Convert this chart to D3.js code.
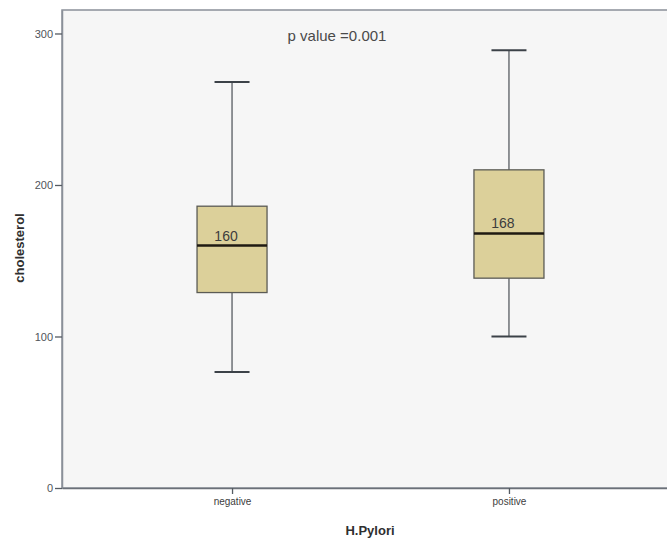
<!DOCTYPE html>
<html lang="en">
<head>
<meta charset="UTF-8" />
<title>Cholesterol by H.Pylori</title>
<script src="https://cdn.jsdelivr.net/npm/d3@7"></script>
<style>
  body { margin: 0; background: #fff; }
  text { font-family: Arial, "Liberation Sans", sans-serif; }
</style>
</head>
<body>
<script>
// values
var groups = ["negative", "positive"];
var whiskerLow = [76.5, 100];
var q1 = [129, 138.5];
var medians = [160, 168];
var q3 = [186, 210];
var whiskerHigh = [268, 289];
var medianLabels = ["160", "168"];
var yTicks = [0, 100, 200, 300];
var pText = "p value =0.001";

var width = 667, height = 542;
var margin = { top: 10, right: -12, bottom: 54, left: 62 };
var innerW = width - margin.left - margin.right;
var innerH = height - margin.top - margin.bottom;

var svg = d3.select("body").append("svg")
  .attr("width", width)
  .attr("height", height);

var g = svg.append("g")
  .attr("transform", "translate(" + margin.left + "," + margin.top + ")");

var x = d3.scalePoint().domain(groups).range([0, innerW]).padding(0.614);
var y = d3.scaleLinear().domain([0, 315.5]).range([innerH, 0]);

// plot background
g.append("rect")
  .attr("width", innerW).attr("height", innerH)
  .attr("fill", "#f6f6f6")
  .attr("stroke", "#8a9099").attr("stroke-width", 1.5);

var boxW = 70, capW = 35;
var data = groups.map(function(d, i) {
  return { g: d, lo: whiskerLow[i], q1: q1[i], med: medians[i], q3: q3[i], hi: whiskerHigh[i], label: medianLabels[i] };
});

var box = g.selectAll(".box").data(data).enter().append("g")
  .attr("class", "box")
  .attr("transform", function(d) { return "translate(" + x(d.g) + ",0)"; });

box.append("line")
  .attr("x1", 0).attr("x2", 0)
  .attr("y1", function(d) { return y(d.lo); })
  .attr("y2", function(d) { return y(d.hi); })
  .attr("stroke", "#4a4f55").attr("stroke-width", 1.2);

box.selectAll(".cap").data(function(d) { return [d.lo, d.hi]; }).enter().append("line")
  .attr("x1", -capW / 2).attr("x2", capW / 2)
  .attr("y1", function(v) { return y(v); })
  .attr("y2", function(v) { return y(v); })
  .attr("stroke", "#3c4248").attr("stroke-width", 2);

box.append("rect")
  .attr("x", -boxW / 2).attr("width", boxW)
  .attr("y", function(d) { return y(d.q3); })
  .attr("height", function(d) { return y(d.q1) - y(d.q3); })
  .attr("fill", "#dcd09a")
  .attr("stroke", "#5b5b55").attr("stroke-width", 1.3);

box.append("line")
  .attr("x1", -boxW / 2).attr("x2", boxW / 2)
  .attr("y1", function(d) { return y(d.med); })
  .attr("y2", function(d) { return y(d.med); })
  .attr("stroke", "#1f1a12").attr("stroke-width", 2.5);

box.append("text")
  .attr("x", -6)
  .attr("y", function(d) { return y(d.med) - 5; })
  .attr("text-anchor", "middle")
  .attr("font-size", 14)
  .attr("fill", "#3d3d3d")
  .text(function(d) { return d.label; });

// axes
var yAxis = d3.axisLeft(y).tickValues(yTicks).tickSize(7).tickSizeOuter(0).tickPadding(2);
var ya = g.append("g").call(yAxis);
ya.select(".domain").attr("stroke", "#8a9099").attr("stroke-width", 1.5);
ya.selectAll(".tick line").attr("stroke", "#555b62").attr("stroke-width", 1.3);
ya.selectAll("text").attr("font-size", 11).attr("fill", "#50545a");

var xAxis = d3.axisBottom(x).tickSize(6).tickSizeOuter(0).tickPadding(4);
var xa = g.append("g").attr("transform", "translate(0," + innerH + ")").call(xAxis);
xa.select(".domain").attr("stroke", "#6b7078").attr("stroke-width", 1.5);
xa.selectAll(".tick line").attr("stroke", "#555b62").attr("stroke-width", 1.3);
xa.selectAll("text").attr("font-size", 10).attr("fill", "#3d3d3d");

// titles
svg.append("text")
  .attr("transform", "translate(24,248) rotate(-90)")
  .attr("text-anchor", "middle")
  .attr("font-size", 13).attr("font-weight", "bold").attr("fill", "#2f2f2f")
  .text("cholesterol");

svg.append("text")
  .attr("x", 370).attr("y", 535)
  .attr("text-anchor", "middle")
  .attr("font-size", 13).attr("font-weight", "bold").attr("fill", "#2f2f2f")
  .text("H.Pylori");

g.append("text")
  .attr("x", 275).attr("y", 31)
  .attr("text-anchor", "middle")
  .attr("font-size", 15).attr("fill", "#4a4a4a")
  .text(pText);
</script>
</body>
</html>
